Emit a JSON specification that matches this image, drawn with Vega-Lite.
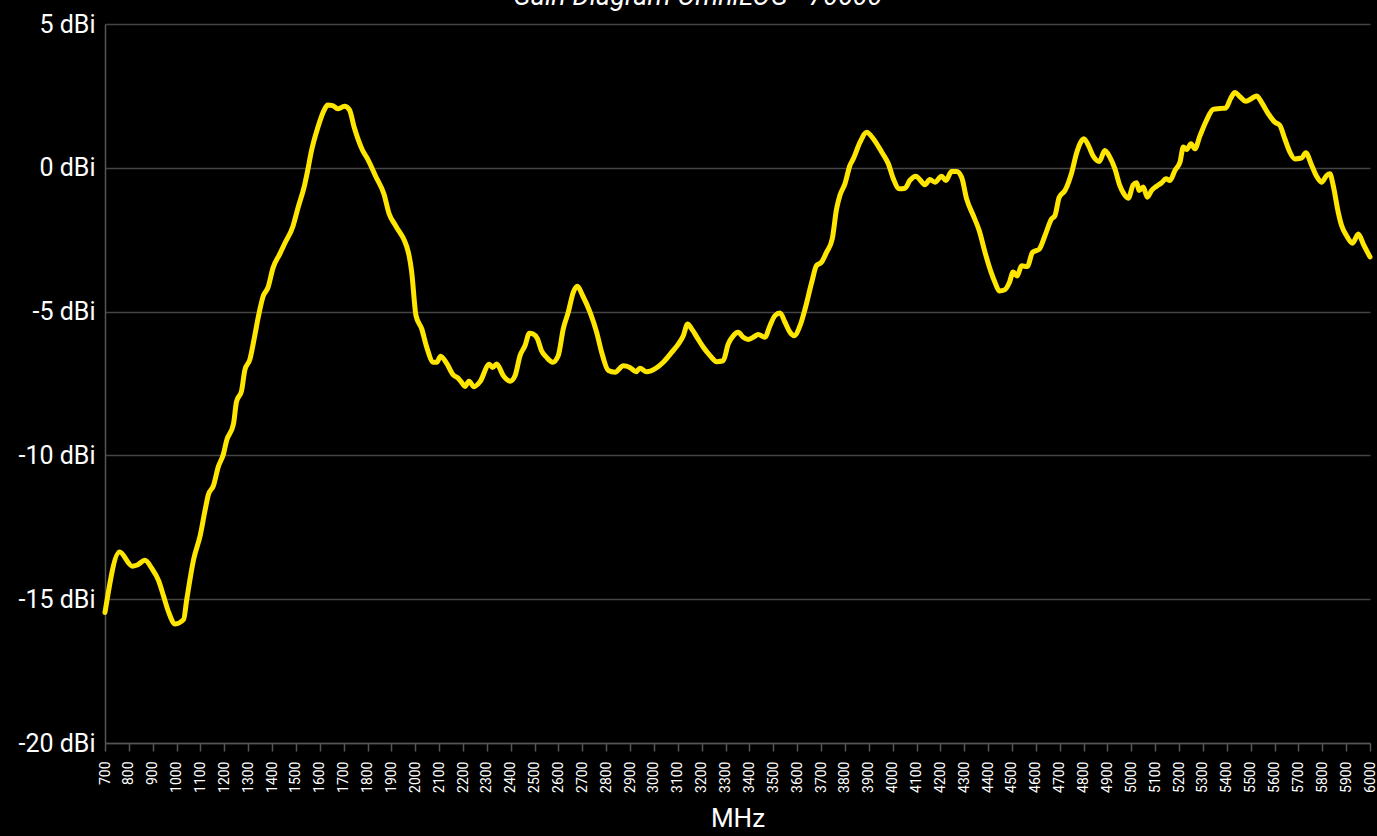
{
  "$schema": "https://vega.github.io/schema/vega-lite/v6.json",
  "width": 1265,
  "height": 719,
  "autosize": {"type": "none"},
  "padding": {"left": 105, "top": 24, "right": 7, "bottom": 93},
  "background": "#000000",
  "title": {
    "text": "Gain Diagram OmniLOG - 70600",
    "font": "Roboto",
    "fontStyle": "italic",
    "fontWeight": "normal",
    "fontSize": 27,
    "color": "#ffffff",
    "anchor": "middle",
    "frame": "bounds",
    "baseline": "alphabetic",
    "offset": 0,
    "dy": 20
  },
  "config": {
    "view": {"stroke": null},
    "font": "Roboto"
  },
  "data": {
    "values": [
      {"f": 700, "g": -15.46}, {"f": 761, "g": -13.36}, {"f": 814, "g": -13.85}, {"f": 835, "g": -13.81},
      {"f": 867, "g": -13.65}, {"f": 897, "g": -13.94}, {"f": 925, "g": -14.36}, {"f": 946, "g": -14.91},
      {"f": 967, "g": -15.46}, {"f": 994, "g": -15.86}, {"f": 1029, "g": -15.71}, {"f": 1043, "g": -14.98},
      {"f": 1071, "g": -13.63}, {"f": 1099, "g": -12.78}, {"f": 1119, "g": -11.92}, {"f": 1133, "g": -11.37},
      {"f": 1154, "g": -11.06}, {"f": 1175, "g": -10.39}, {"f": 1196, "g": -9.96}, {"f": 1210, "g": -9.47},
      {"f": 1238, "g": -8.92}, {"f": 1251, "g": -8.13}, {"f": 1272, "g": -7.76}, {"f": 1286, "g": -7.03},
      {"f": 1307, "g": -6.66}, {"f": 1328, "g": -5.81}, {"f": 1342, "g": -5.2}, {"f": 1363, "g": -4.46},
      {"f": 1383, "g": -4.16}, {"f": 1404, "g": -3.48}, {"f": 1432, "g": -3.0}, {"f": 1453, "g": -2.63},
      {"f": 1488, "g": -2.02}, {"f": 1508, "g": -1.41}, {"f": 1536, "g": -0.61}, {"f": 1550, "g": -0.06},
      {"f": 1564, "g": 0.55}, {"f": 1592, "g": 1.41}, {"f": 1619, "g": 2.02}, {"f": 1633, "g": 2.18},
      {"f": 1654, "g": 2.16}, {"f": 1675, "g": 2.05}, {"f": 1703, "g": 2.14}, {"f": 1724, "g": 2.02},
      {"f": 1744, "g": 1.41}, {"f": 1779, "g": 0.61}, {"f": 1800, "g": 0.31}, {"f": 1835, "g": -0.31},
      {"f": 1869, "g": -0.92}, {"f": 1890, "g": -1.59}, {"f": 1918, "g": -2.02}, {"f": 1971, "g": -2.94},
      {"f": 1985, "g": -3.63}, {"f": 2003, "g": -5.14}, {"f": 2027, "g": -5.6}, {"f": 2048, "g": -6.24},
      {"f": 2076, "g": -6.76}, {"f": 2090, "g": -6.76}, {"f": 2106, "g": -6.55}, {"f": 2131, "g": -6.79},
      {"f": 2159, "g": -7.2}, {"f": 2180, "g": -7.32}, {"f": 2194, "g": -7.46}, {"f": 2208, "g": -7.6},
      {"f": 2225, "g": -7.42}, {"f": 2246, "g": -7.61}, {"f": 2271, "g": -7.44}, {"f": 2310, "g": -6.83},
      {"f": 2324, "g": -6.94}, {"f": 2341, "g": -6.82}, {"f": 2369, "g": -7.23}, {"f": 2397, "g": -7.42},
      {"f": 2418, "g": -7.23}, {"f": 2439, "g": -6.53}, {"f": 2460, "g": -6.18}, {"f": 2478, "g": -5.75},
      {"f": 2494, "g": -5.78}, {"f": 2511, "g": -5.93}, {"f": 2529, "g": -6.36}, {"f": 2550, "g": -6.59},
      {"f": 2576, "g": -6.76}, {"f": 2599, "g": -6.53}, {"f": 2620, "g": -5.6}, {"f": 2641, "g": -5.02},
      {"f": 2662, "g": -4.33}, {"f": 2679, "g": -4.12}, {"f": 2701, "g": -4.44}, {"f": 2732, "g": -5.02},
      {"f": 2760, "g": -5.72}, {"f": 2781, "g": -6.42}, {"f": 2809, "g": -7.05}, {"f": 2837, "g": -7.11},
      {"f": 2872, "g": -6.88}, {"f": 2899, "g": -6.94}, {"f": 2925, "g": -7.09}, {"f": 2941, "g": -6.97},
      {"f": 2969, "g": -7.09}, {"f": 3004, "g": -6.99}, {"f": 3039, "g": -6.76}, {"f": 3074, "g": -6.42},
      {"f": 3102, "g": -6.13}, {"f": 3123, "g": -5.84}, {"f": 3141, "g": -5.43}, {"f": 3158, "g": -5.6},
      {"f": 3183, "g": -5.93}, {"f": 3207, "g": -6.24}, {"f": 3235, "g": -6.53}, {"f": 3263, "g": -6.74},
      {"f": 3290, "g": -6.71}, {"f": 3311, "g": -6.13}, {"f": 3332, "g": -5.84}, {"f": 3353, "g": -5.72},
      {"f": 3374, "g": -5.89}, {"f": 3395, "g": -5.97}, {"f": 3416, "g": -5.89}, {"f": 3437, "g": -5.8},
      {"f": 3465, "g": -5.89}, {"f": 3486, "g": -5.49}, {"f": 3507, "g": -5.14}, {"f": 3528, "g": -5.05},
      {"f": 3549, "g": -5.37}, {"f": 3570, "g": -5.72}, {"f": 3587, "g": -5.84}, {"f": 3612, "g": -5.49},
      {"f": 3633, "g": -4.91}, {"f": 3661, "g": -3.98}, {"f": 3681, "g": -3.4}, {"f": 3702, "g": -3.28},
      {"f": 3723, "g": -2.94}, {"f": 3747, "g": -2.47}, {"f": 3765, "g": -1.43}, {"f": 3779, "g": -0.96},
      {"f": 3800, "g": -0.56}, {"f": 3821, "g": 0.08}, {"f": 3835, "g": 0.31}, {"f": 3863, "g": 0.88},
      {"f": 3891, "g": 1.24}, {"f": 3919, "g": 1.01}, {"f": 3954, "g": 0.55}, {"f": 3982, "g": 0.14},
      {"f": 4003, "g": -0.38}, {"f": 4028, "g": -0.73}, {"f": 4052, "g": -0.71}, {"f": 4072, "g": -0.44},
      {"f": 4098, "g": -0.29}, {"f": 4114, "g": -0.41}, {"f": 4135, "g": -0.59}, {"f": 4156, "g": -0.41},
      {"f": 4177, "g": -0.5}, {"f": 4205, "g": -0.29}, {"f": 4223, "g": -0.44}, {"f": 4247, "g": -0.13},
      {"f": 4268, "g": -0.13}, {"f": 4289, "g": -0.33}, {"f": 4310, "g": -1.08}, {"f": 4338, "g": -1.66},
      {"f": 4363, "g": -2.19}, {"f": 4387, "g": -2.94}, {"f": 4412, "g": -3.62}, {"f": 4429, "g": -3.99},
      {"f": 4447, "g": -4.28}, {"f": 4470, "g": -4.24}, {"f": 4489, "g": -3.99}, {"f": 4505, "g": -3.62},
      {"f": 4522, "g": -3.76}, {"f": 4540, "g": -3.41}, {"f": 4564, "g": -3.43}, {"f": 4586, "g": -2.94},
      {"f": 4614, "g": -2.83}, {"f": 4638, "g": -2.36}, {"f": 4666, "g": -1.78}, {"f": 4680, "g": -1.66},
      {"f": 4698, "g": -1.02}, {"f": 4722, "g": -0.79}, {"f": 4750, "g": -0.17}, {"f": 4771, "g": 0.52},
      {"f": 4785, "g": 0.84}, {"f": 4801, "g": 1.01}, {"f": 4820, "g": 0.78}, {"f": 4840, "g": 0.41},
      {"f": 4866, "g": 0.22}, {"f": 4889, "g": 0.6}, {"f": 4910, "g": 0.37}, {"f": 4931, "g": -0.03},
      {"f": 4952, "g": -0.62}, {"f": 4969, "g": -0.91}, {"f": 4987, "g": -1.06}, {"f": 5008, "g": -0.59},
      {"f": 5022, "g": -0.52}, {"f": 5033, "g": -0.79}, {"f": 5050, "g": -0.67}, {"f": 5067, "g": -1.02},
      {"f": 5085, "g": -0.79}, {"f": 5106, "g": -0.64}, {"f": 5127, "g": -0.52}, {"f": 5145, "g": -0.38},
      {"f": 5162, "g": -0.44}, {"f": 5183, "g": -0.09}, {"f": 5204, "g": 0.2}, {"f": 5218, "g": 0.72},
      {"f": 5232, "g": 0.64}, {"f": 5250, "g": 0.84}, {"f": 5266, "g": 0.66}, {"f": 5287, "g": 1.1},
      {"f": 5315, "g": 1.65}, {"f": 5343, "g": 2.03}, {"f": 5371, "g": 2.06}, {"f": 5396, "g": 2.08},
      {"f": 5416, "g": 2.41}, {"f": 5434, "g": 2.62}, {"f": 5455, "g": 2.47}, {"f": 5480, "g": 2.31},
      {"f": 5504, "g": 2.41}, {"f": 5525, "g": 2.5}, {"f": 5546, "g": 2.27}, {"f": 5574, "g": 1.88},
      {"f": 5601, "g": 1.59}, {"f": 5622, "g": 1.48}, {"f": 5643, "g": 1.01}, {"f": 5664, "g": 0.55},
      {"f": 5685, "g": 0.31}, {"f": 5713, "g": 0.34}, {"f": 5731, "g": 0.52}, {"f": 5755, "g": 0.1},
      {"f": 5776, "g": -0.29}, {"f": 5797, "g": -0.5}, {"f": 5818, "g": -0.27}, {"f": 5832, "g": -0.21},
      {"f": 5846, "g": -0.62}, {"f": 5867, "g": -1.55}, {"f": 5881, "g": -2.01}, {"f": 5902, "g": -2.36},
      {"f": 5927, "g": -2.62}, {"f": 5951, "g": -2.3}, {"f": 5972, "g": -2.65}, {"f": 6000, "g": -3.1}
    ]
  },
  "mark": {
    "type": "line",
    "color": "#FFE600",
    "strokeWidth": 5,
    "interpolate": "monotone",
    "strokeCap": "round",
    "strokeJoin": "round"
  },
  "encoding": {
    "x": {
      "field": "f",
      "type": "quantitative",
      "scale": {"domain": [700, 6000], "nice": false, "zero": false},
      "axis": {
        "title": "MHz",
        "titleColor": "#ffffff",
        "titleFont": "Roboto",
        "titleFontSize": 26,
        "titleFontWeight": "normal",
        "titlePadding": 13,
        "values": [700,800,900,1000,1100,1200,1300,1400,1500,1600,1700,1800,1900,2000,2100,2200,2300,2400,2500,2600,2700,2800,2900,3000,3100,3200,3300,3400,3500,3600,3700,3800,3900,4000,4100,4200,4300,4400,4500,4600,4700,4800,4900,5000,5100,5200,5300,5400,5500,5600,5700,5800,5900,6000],
        "format": "d",
        "labelAngle": -90,
        "labelFontSize": 14,
        "labelColor": "#ffffff",
        "labelPadding": 10,
        "labelFlush": false,
        "labelOverlap": false,
        "grid": false,
        "domainColor": "#555555",
        "domainWidth": 1.5,
        "tickColor": "#555555",
        "tickWidth": 1.5,
        "tickSize": 8
      }
    },
    "y": {
      "field": "g",
      "type": "quantitative",
      "scale": {"domain": [-20, 5], "nice": false, "zero": false},
      "axis": {
        "title": null,
        "values": [-20, -15, -10, -5, 0, 5],
        "labelExpr": "datum.value + ' dBi'",
        "labelFontSize": 25,
        "labelColor": "#ffffff",
        "labelPadding": 10,
        "labelFlush": false,
        "ticks": false,
        "grid": true,
        "gridColor": "#444444",
        "gridWidth": 1.5,
        "domainColor": "#555555",
        "domainWidth": 1.5
      }
    }
  }
}
